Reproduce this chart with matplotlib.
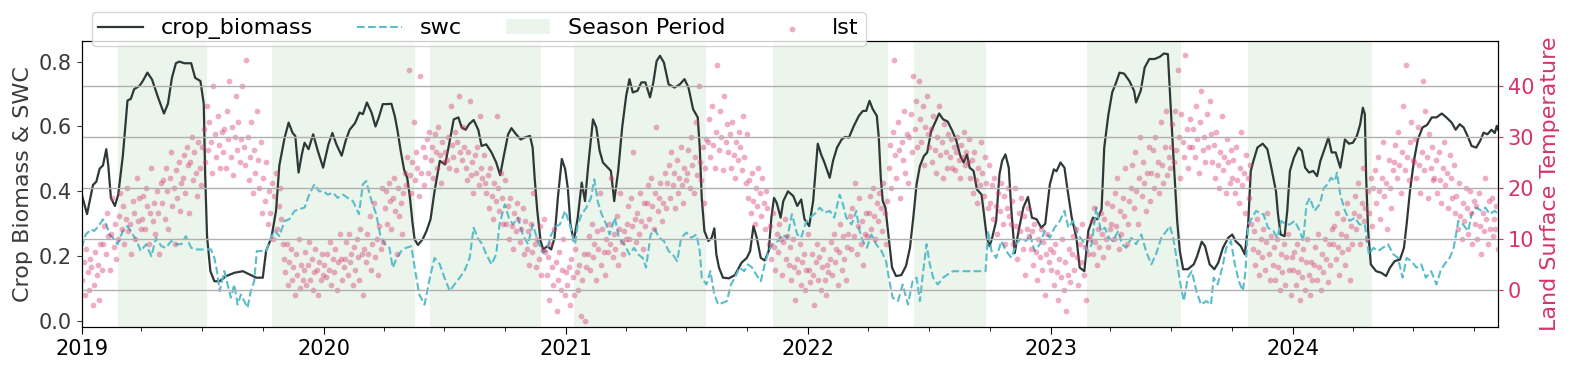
import numpy as np
import pandas as pd
import matplotlib
matplotlib.use("Agg")
import matplotlib.pyplot as plt
import matplotlib.dates as mdates

START = pd.Timestamp("2019-01-01")
END = pd.Timestamp("2024-11-06")

# crop biomass: days since 2019-01-01, value
bio_day = [0, 8, 17, 22, 27, 32, 37, 40, 44, 50, 55, 62, 69, 74, 79, 87, 92, 99, 106, 115, 124, 130, 136, 142,
           147, 155, 165, 171, 179, 184, 186, 189, 194, 200, 208, 218, 230, 243, 253, 263, 273, 278, 286, 293,
           298, 306, 312, 318, 322, 327, 332, 336, 342, 349, 356, 364, 372, 378, 384, 392, 398, 404, 412, 419,
           424, 430, 437, 443, 448, 454, 460, 467, 472, 476, 481, 486, 491, 495, 499, 502, 507, 514, 520, 526,
           532, 540, 548, 554, 561, 568, 573, 579, 584, 591, 598, 603, 610, 618, 625, 631, 636, 643, 648, 655,
           662, 668, 676, 680, 683, 687, 692, 696, 702, 708, 713, 718, 724, 729, 733, 737, 742, 748, 754, 759,
           764, 771, 776, 781, 786, 791, 798, 803, 809, 815, 821, 826, 831, 838, 844, 850, 857, 862, 867, 872,
           878, 885, 894, 902, 909, 915, 922, 929, 932, 935, 939, 945, 950, 954, 957, 961, 967, 976, 985, 995,
           1003, 1008, 1013, 1018, 1024, 1030, 1036, 1040, 1044, 1048, 1054, 1058, 1065, 1073, 1079, 1085, 1090,
           1097, 1103, 1110, 1115, 1120, 1128, 1133, 1139, 1146, 1151, 1157, 1164, 1172, 1178, 1183, 1188, 1193,
           1199, 1202, 1205, 1208, 1212, 1217, 1222, 1228, 1236, 1243, 1249, 1254, 1259, 1264, 1270, 1275, 1281,
           1288, 1293, 1299, 1306, 1313, 1319, 1325, 1330, 1335, 1339, 1345, 1350, 1357, 1360, 1365, 1369, 1373,
           1379, 1384, 1388, 1393, 1398, 1402, 1407, 1413, 1420, 1427, 1433, 1440, 1447, 1453, 1460, 1466, 1470,
           1476, 1482, 1487, 1493, 1500, 1505, 1512, 1518, 1525, 1532, 1538, 1542, 1548, 1554, 1560, 1565, 1572,
           1580, 1587, 1590, 1597, 1603, 1610, 1618, 1626, 1632, 1638, 1642, 1647, 1652, 1656, 1661, 1668, 1677,
           1682, 1689, 1694, 1701, 1708, 1714, 1721, 1729, 1735, 1740, 1748, 1754, 1759, 1763, 1767, 1773, 1781,
           1788, 1794, 1801, 1804, 1808, 1814, 1818, 1822, 1828, 1835, 1840, 1845, 1851, 1857, 1863, 1868, 1875,
           1880, 1885, 1891, 1898, 1905, 1911, 1917, 1923, 1928, 1932, 1935, 1937, 1940, 1944, 1952, 1960, 1967,
           1973, 1980, 1988, 1994, 1998, 2003, 2009, 2015, 2022, 2029, 2036, 2043, 2051, 2058, 2066, 2072, 2078,
           2084, 2091, 2096, 2103, 2109, 2114, 2120, 2126, 2131, 2134, 2136]
bio_val = [0.39, 0.33, 0.42, 0.43, 0.47, 0.48, 0.53, 0.48, 0.38, 0.355, 0.39, 0.51, 0.68, 0.685, 0.715, 0.725,
           0.74, 0.766, 0.745, 0.69, 0.64, 0.67, 0.75, 0.795, 0.80, 0.795, 0.795, 0.75, 0.74, 0.67, 0.46, 0.26,
           0.154, 0.123, 0.123, 0.139, 0.149, 0.154, 0.144, 0.134, 0.134, 0.216, 0.257, 0.34, 0.48, 0.566, 0.612,
           0.58, 0.571, 0.458, 0.515, 0.55, 0.53, 0.576, 0.525, 0.473, 0.545, 0.58, 0.545, 0.51, 0.556, 0.59,
           0.61, 0.643, 0.638, 0.674, 0.643, 0.60, 0.628, 0.669, 0.669, 0.67, 0.633, 0.59, 0.525, 0.468, 0.44,
           0.38, 0.30, 0.252, 0.235, 0.252, 0.278, 0.314, 0.40, 0.494, 0.483, 0.545, 0.622, 0.628, 0.597, 0.59,
           0.607, 0.62, 0.59, 0.54, 0.545, 0.52, 0.489, 0.45, 0.504, 0.576, 0.595, 0.576, 0.56, 0.566, 0.571,
           0.535, 0.442, 0.34, 0.247, 0.221, 0.231, 0.221, 0.257, 0.38, 0.50, 0.469, 0.41, 0.298, 0.247, 0.319,
           0.427, 0.37, 0.484, 0.622, 0.597, 0.525, 0.489, 0.478, 0.463, 0.37, 0.463, 0.597, 0.694, 0.746, 0.705,
           0.71, 0.736, 0.736, 0.69, 0.736, 0.802, 0.818, 0.797, 0.73, 0.72, 0.73, 0.746, 0.72, 0.653, 0.628,
           0.535, 0.38, 0.278, 0.247, 0.257, 0.286, 0.206, 0.165, 0.134, 0.132, 0.142, 0.18, 0.195, 0.216, 0.293,
           0.257, 0.195, 0.187, 0.216, 0.319, 0.38, 0.365, 0.319, 0.37, 0.40, 0.386, 0.355, 0.375, 0.314, 0.293,
           0.37, 0.547, 0.514, 0.489, 0.442, 0.494, 0.535, 0.56, 0.568, 0.566, 0.60, 0.633, 0.648, 0.648, 0.679,
           0.653, 0.633, 0.566, 0.442, 0.37, 0.35, 0.257, 0.165, 0.139, 0.142, 0.17, 0.226, 0.319, 0.422, 0.478,
           0.509, 0.52, 0.586, 0.617, 0.64, 0.622, 0.615, 0.586, 0.556, 0.509, 0.489, 0.514, 0.473, 0.463, 0.406,
           0.39, 0.34, 0.257, 0.231, 0.257, 0.309, 0.453, 0.494, 0.514, 0.473, 0.34, 0.21, 0.28, 0.35, 0.383,
           0.319, 0.314, 0.288, 0.30, 0.422, 0.468, 0.462, 0.489, 0.473, 0.40, 0.319, 0.257, 0.165, 0.154, 0.278,
           0.319, 0.314, 0.345, 0.535, 0.633, 0.705, 0.736, 0.766, 0.763, 0.74, 0.71, 0.674, 0.71, 0.782, 0.808,
           0.808, 0.815, 0.825, 0.823, 0.669, 0.484, 0.309, 0.216, 0.16, 0.16, 0.175, 0.20, 0.245, 0.231, 0.175,
           0.16, 0.18, 0.226, 0.257, 0.267, 0.247, 0.231, 0.206, 0.298, 0.463, 0.494, 0.535, 0.547, 0.53, 0.473,
           0.40, 0.33, 0.267, 0.262, 0.34, 0.463, 0.504, 0.535, 0.525, 0.473, 0.458, 0.463, 0.447, 0.494, 0.535,
           0.566, 0.52, 0.52, 0.473, 0.56, 0.547, 0.55, 0.571, 0.607, 0.658, 0.638, 0.442, 0.278, 0.175, 0.154,
           0.149, 0.139, 0.165, 0.185, 0.19, 0.226, 0.298, 0.40, 0.494, 0.56, 0.597, 0.605, 0.628, 0.628, 0.64,
           0.628, 0.612, 0.59, 0.607, 0.597, 0.566, 0.54, 0.535, 0.556, 0.581, 0.576, 0.59, 0.58, 0.602, 0.59]

# soil water content: days since 2019-01-01, value
swc_day = [0, 6, 14, 19, 27, 32, 37, 42, 47, 54, 62, 69, 77, 83, 89, 97, 105, 112, 120, 127, 135, 142, 150, 157,
           165, 172, 182, 195, 200, 204, 208, 215, 220, 225, 230, 235, 240, 245, 250, 255, 260, 264, 270, 278,
           283, 291, 298, 306, 313, 321, 328, 336, 343, 351, 358, 364, 371, 379, 386, 394, 401, 409, 418, 424,
           429, 437, 444, 450, 457, 464, 469, 475, 482, 489, 497, 503, 509, 517, 525, 532, 540, 547, 555, 562,
           570, 577, 585, 591, 597, 604, 610, 618, 625, 630, 638, 644, 650, 658, 665, 673, 680, 688, 695, 701,
           708, 716, 721, 729, 736, 741, 744, 748, 754, 761, 768, 773, 778, 784, 791, 796, 804, 810, 818, 826,
           833, 839, 846, 851, 858, 864, 871, 878, 885, 891, 898, 904, 912, 919, 927, 932, 935, 942, 948, 954,
           960, 967, 973, 979, 985, 992, 999, 1005, 1011, 1017, 1024, 1030, 1036, 1042, 1050, 1056, 1064, 1071,
           1079, 1085, 1092, 1098, 1105, 1113, 1120, 1128, 1135, 1143, 1148, 1153, 1161, 1168, 1173, 1178, 1184,
           1191, 1198, 1206, 1213, 1218, 1223, 1231, 1238, 1246, 1253, 1259, 1264, 1269, 1274, 1279, 1284, 1291,
           1299, 1306, 1314, 1363, 1367, 1372, 1379, 1387, 1394, 1402, 1409, 1417, 1424, 1430, 1437, 1445, 1452,
           1460, 1467, 1475, 1482, 1488, 1495, 1502, 1510, 1517, 1523, 1530, 1537, 1543, 1549, 1555, 1563, 1569,
           1575, 1583, 1590, 1598, 1605, 1613, 1620, 1628, 1636, 1641, 1646, 1651, 1656, 1662, 1668, 1674, 1681,
           1688, 1696, 1703, 1707, 1713, 1720, 1726, 1733, 1739, 1745, 1751, 1755, 1759, 1765, 1771, 1779, 1782,
           1789, 1797, 1803, 1809, 1816, 1822, 1829, 1837, 1842, 1847, 1852, 1859, 1867, 1873, 1879, 1884, 1890,
           1893, 1898, 1905, 1912, 1920, 1927, 1935, 1941, 1948, 1955, 1962, 1970, 1978, 1985, 1992, 1998, 2005,
           2013, 2020, 2027, 2035, 2043, 2049, 2055, 2063, 2069, 2076, 2083, 2091, 2096, 2103, 2111, 2117, 2123,
           2131, 2136]
swc_val = [0.226, 0.267, 0.283, 0.278, 0.298, 0.314, 0.298, 0.267, 0.257, 0.237, 0.278, 0.293, 0.267, 0.247,
           0.216, 0.237, 0.20, 0.257, 0.231, 0.226, 0.247, 0.237, 0.237, 0.262, 0.226, 0.221, 0.221, 0.221,
           0.195, 0.154, 0.093, 0.154, 0.113, 0.072, 0.113, 0.051, 0.082, 0.062, 0.041, 0.093, 0.123, 0.216,
           0.216, 0.216, 0.247, 0.278, 0.262, 0.309, 0.314, 0.34, 0.345, 0.35, 0.39, 0.422, 0.40, 0.401, 0.39,
           0.396, 0.38, 0.39, 0.38, 0.37, 0.33, 0.422, 0.432, 0.37, 0.33, 0.267, 0.237, 0.226, 0.165, 0.195,
           0.216, 0.226, 0.231, 0.154, 0.082, 0.051, 0.134, 0.195, 0.175, 0.134, 0.093, 0.113, 0.134, 0.154,
           0.195, 0.288, 0.257, 0.237, 0.206, 0.175, 0.206, 0.298, 0.36, 0.319, 0.298, 0.319, 0.267, 0.237,
           0.298, 0.247, 0.211, 0.216, 0.267, 0.293, 0.298, 0.34, 0.298, 0.257, 0.237, 0.298, 0.33, 0.35, 0.38,
           0.437, 0.37, 0.33, 0.298, 0.267, 0.319, 0.257, 0.237, 0.206, 0.226, 0.206, 0.195, 0.165, 0.267,
           0.283, 0.257, 0.247, 0.216, 0.206, 0.185, 0.257, 0.273, 0.257, 0.267, 0.216, 0.134, 0.113, 0.154,
           0.082, 0.051, 0.057, 0.062, 0.113, 0.134, 0.165, 0.154, 0.175, 0.165, 0.144, 0.123, 0.175, 0.216,
           0.237, 0.247, 0.267, 0.257, 0.33, 0.267, 0.257, 0.304, 0.319, 0.33, 0.35, 0.334, 0.34, 0.319, 0.39,
           0.36, 0.319, 0.298, 0.34, 0.278, 0.247, 0.226, 0.267, 0.237, 0.216, 0.185, 0.123, 0.072, 0.062, 0.113,
           0.051, 0.123, 0.134, 0.062, 0.154, 0.237, 0.175, 0.134, 0.113, 0.134, 0.144, 0.154, 0.154, 0.278,
           0.216, 0.195, 0.247, 0.216, 0.195, 0.237, 0.257, 0.247, 0.267, 0.216, 0.237, 0.278, 0.257, 0.288,
           0.309, 0.34, 0.288, 0.309, 0.267, 0.247, 0.216, 0.237, 0.35, 0.278, 0.288, 0.257, 0.247, 0.278,
           0.237, 0.226, 0.257, 0.237, 0.267, 0.216, 0.175, 0.206, 0.257, 0.278, 0.293, 0.257, 0.195, 0.123,
           0.062, 0.134, 0.154, 0.093, 0.051, 0.062, 0.051, 0.134, 0.113, 0.165, 0.226, 0.247, 0.175, 0.123,
           0.093, 0.154, 0.298, 0.319, 0.34, 0.33, 0.33, 0.288, 0.278, 0.257, 0.309, 0.298, 0.298, 0.309, 0.278,
           0.247, 0.36, 0.38, 0.34, 0.36, 0.41, 0.422, 0.442, 0.432, 0.458, 0.39, 0.34, 0.309, 0.319, 0.298,
           0.298, 0.206, 0.226, 0.216, 0.226, 0.237, 0.206, 0.195, 0.134, 0.195, 0.185, 0.165, 0.175, 0.134,
           0.154, 0.113, 0.154, 0.175, 0.195, 0.226, 0.309, 0.298, 0.278, 0.33, 0.35, 0.34, 0.35, 0.33, 0.34,
           0.33]

# growing seasons (start, end)
season_start = ["2019-02-25", "2019-10-15", "2020-06-09", "2021-01-12", "2021-11-08", "2022-06-09", "2023-02-25",
                "2023-10-26"]
season_end = ["2019-07-09", "2020-05-17", "2020-11-23", "2021-07-30", "2022-05-01", "2022-09-26", "2023-07-17",
              "2024-04-30"]

# land surface temperature, one list per month
lst_2019 = [
    [2, 5.5, -1, 8, 3.5, 0, 6, 4.5, -3, 1, 7.5, 3, 5, -2, 9, 4],
    [9, 12.5, 7, 15, 10.5, 4, 11, 18, 8.5, 13, 6, 10, 14.5, 19],
    [12, 16.5, 9, 14, 20, 11.5, 13, 7, 17.5, 15, 10, 22, 13.5, 18, 12],
    [14, 18.5, 12, 20, 16.5, 9, 15, 24, 13.5, 17, 11, 19.5, 15, 7, 21],
    [17, 21.5, 14, 24, 19.5, 12, 22, 27, 16.5, 20, 9, 23.5, 18, 25, 15.5, 21],
    [22, 26.5, 19, 28, 24.5, 15, 25, 30, 21.5, 27, 23, 18.5, 29, 24, 20.5],
    [28, 31.5, 25, 36, 27.5, 33, 29, 23, 40, 30.5, 26, 34, 28.5, 24, 31],
    [27, 31.5, 24, 35, 29.5, 41, 26, 32, 22.5, 30, 38, 27.5, 33, 25, 29.5, 40],
    [28, 24.5, 45, 30, 21.5, 26, 33, 19, 27.5, 23, 35, 25.5, 20, 29, 15],
    [22, 17.5, 25, 13, 19.5, 15, 21, 10, 18.5, 23, 12, 16.5, 20, 14, 9],
    [6, 3.5, 9, 1, 5.5, 8, 2, 4.5, -1, 7, 3, 10, 0.5, 5, 2],
    [4, 7.5, 1, 5, 9.5, 2, 6, 0, 3.5, 8, 4, -1, 5.5, 2, 7, 3],
]
lst_2020 = [
    [5, 2.5, 7, 4, 9.5, 1, 6, 3.5, 8, 0, 5.5, 11, 6, 2, 4.5],
    [6, 9.5, 3, 11, 5.5, 7, 1, 8.5, 4, 10, 6.5, 2, 12, 7, -1],
    [8, 5.5, 11, 7, 14.5, 4, 9, 17, 6.5, 10, 3, 12.5, 8, 20, 9.5],
    [16, 19.5, 13, 21, 17.5, 12, 18, 22, 15.5, 7, 20, 14.5, 17, 11, 19],
    [23, 20.5, 26, 43, 22.5, 19, 25, 33, 21.5, 27, 24, 18.5, 42, 23, 28, 20.5],
    [26, 29.5, 23, 31, 25.5, 28, 22, 30.5, 27, 24, 32, 26.5, 21, 29, 25],
    [27, 25.5, 30, 24, 36, 28.5, 26, 31, 23.5, 29, 38, 27, 25.5, 32, 28],
    [24, 21.5, 27, 37, 22.5, 25, 19, 26.5, 23, 28, 20.5, 34, 24, 22, 26.5, 21],
    [19, 22.5, 16, 24, 18.5, 14, 21, 17.5, 34, 20, 15.5, 23, 18, 13, 21.5],
    [13, 16.5, 10, 18, 12.5, 8, 15, 11.5, 17, 14, 9.5, 12, 16, 7, 13.5],
    [8, 11.5, 5, 13, 7.5, 19, 9, 4.5, 10, 6, 12.5, 3, 8, 14, 7.5],
    [3, 6.5, -2, 9, 4.5, 1, 12, 5.5, -4, 2, 7.5, 0, 4, 10, -1, 3.5],
]
lst_2021 = [
    [1, 4.5, -3, 6, 2.5, -1, 8, 3.5, 0, 5, -5, 2, 7, -6, 4.5],
    [7, 10.5, 4, 13, 6.5, 9, 2, 11.5, 8, 19, 5, 12, 7.5, 3],
    [10, 7.5, 13, 9, 22, 6.5, 11, 8, 14.5, 5, 12, 19, 9.5, 7, 11.5, 10],
    [13, 16.5, 10, 18, 12.5, 27, 14, 9.5, 15, 11, 19, 13.5, 8, 17, 12.5],
    [17, 20.5, 14, 22, 16.5, 12, 19, 32, 15.5, 18, 21, 13.5, 17, 23, 16],
    [21, 24.5, 18, 27, 20.5, 23, 16, 25.5, 19, 22, 28, 20.5, 17, 24, 21.5],
    [23, 27.5, 20, 30, 24.5, 19, 26, 33, 22.5, 40, 25, 21.5, 28, 17, 24, 29.5],
    [29, 33.5, 26, 36, 28.5, 24, 31, 44, 27.5, 35, 30, 23.5, 38, 29, 32.5],
    [27, 30.5, 24, 33, 26.5, 22, 29, 25.5, 31, 28, 23.5, 34, 26, 21, 30.5],
    [18, 21.5, 15, 23, 17.5, 13, 20, 16.5, 24, 19, 14.5, 22, 17, 12, 19.5, 16],
    [9, 12.5, 6, 15, 8.5, 4, 11, 7.5, 13, 10, 3, 9.5, 14, 6, 10.5],
    [5, 8.5, 2, 10, 4.5, -2, 6, 3.5, 9, 1, 5.5, 7, 0, 4, 11],
]
lst_2022 = [
    [4, 1.5, 7, 3, -3, 5.5, 9, 2, 6.5, 0, 4.5, 8, 2, -1, 5, 3.5],
    [6, 9.5, 3, 11, 5.5, 8, 1, 7.5, 13, 4, 10.5, 6, 2, 8.5],
    [11, 14.5, 8, 16, 10.5, 21, 7, 12.5, 18, 9, 13.5, 5, 11, 15, 10.5],
    [15, 18.5, 12, 20, 14.5, 10, 17, 13.5, 19, 16, 11.5, 21, 15, 9, 17.5],
    [24, 28.5, 20, 31, 45, 26.5, 22, 33, 27.5, 18, 29, 25.5, 35, 23, 30.5, 21],
    [30, 34.5, 27, 42, 31.5, 37, 28, 41, 33.5, 29, 36, 24.5, 32, 38, 30.5],
    [28, 31.5, 25, 34, 27.5, 23, 30, 36, 26.5, 29, 22, 32.5, 27, 24, 30.5],
    [26, 29.5, 24, 28, 23.5, 27, 30, 25.5, 22, 28.5, 26, 31, 24.5, 27, 25, 29.5],
    [22, 25.5, 19, 27, 21.5, 17, 24, 20.5, 29, 23, 18.5, 26, 21, 16, 24.5],
    [17, 20.5, 14, 22, 16.5, 11, 19, 15.5, 21, 13, 18.5, 9, 16, 20, 14.5],
    [13, 17.5, 9, 20, 12.5, 6, 15, 11.5, 18, 8, 14.5, 3, 12, 16, 10.5],
    [8, 11.5, 5, 13, 7.5, 2, 10, 6.5, 12, 4, 9.5, -1, 7, 11, 5.5, 8],
]
lst_2023 = [
    [4, 7.5, 1, 9, 3.5, -2, 6, 2.5, 10, 0, 5.5, -4, 3, 8, 1.5],
    [7, 10.5, 4, 12, 6.5, 1, 9, 5.5, 13, 3, 8.5, -2, 7, 10.5],
    [10, 13.5, 7, 16, 9.5, 5, 12, 8.5, 15, 11, 6.5, 14, 10, 17, 8.5, 12],
    [13, 16.5, 10, 19, 12.5, 22, 8, 15.5, 11, 18, 14.5, 24, 9, 13, 17.5],
    [20, 24.5, 16, 27, 19.5, 13, 22, 30, 18.5, 25, 21, 15.5, 23, 28, 17.5],
    [23, 27.5, 20, 30, 22.5, 25, 19, 33, 24.5, 21, 28, 35, 22.5, 26, 24],
    [28, 32.5, 25, 35, 27.5, 43, 30, 22, 34.5, 29, 26, 46, 31.5, 24, 28, 33.5],
    [28, 31.5, 26, 36, 29.5, 23, 33, 39, 27.5, 30, 25, 34.5, 28, 37, 30.5],
    [25, 28.5, 22, 31, 24.5, 20, 27, 34, 23.5, 26, 19, 29.5, 25, 21, 27.5],
    [22, 25.5, 19, 28, 21.5, 17, 24, 31, 20.5, 23, 15, 26.5, 22, 18, 24.5, 13],
    [8, 11.5, 5, 14, 7.5, 3, 10, 6.5, 12, 4, 9.5, 15, 7, 2, 10.5],
    [5, 8.5, 2, 10, 4.5, 0, 7, 3.5, 9, 1, 6.5, 11, 4, -1, 6.5],
]
lst_2024 = [
    [4, 7.5, 1, 9, 3.5, -2, 6, 2.5, 8, 0, 5.5, 10, 3, -1, 5.5, 2],
    [5, 8.5, 2, 11, 4.5, 0, 7, 3.5, 10, 6, 1.5, 9, 5, 12],
    [9, 12.5, 6, 15, 8.5, 3, 11, 7.5, 14, 5, 10.5, 17, 8, 2, 12.5, 9],
    [15, 18.5, 12, 21, 14.5, 9, 17, 24, 13.5, 16, 10, 19.5, 15, 22, 12.5],
    [20, 23.5, 17, 26, 19.5, 14, 22, 29, 18.5, 21, 12, 25.5, 20, 16, 23.5],
    [25, 28.5, 22, 31, 24.5, 19, 27, 36, 23.5, 44, 26, 21.5, 29, 33, 25.5],
    [25, 29.5, 22, 32, 24.5, 19, 27, 41, 23.5, 35, 26, 18, 30.5, 24, 28, 21.5],
    [22, 25.5, 19, 27, 21.5, 17, 24, 29, 20.5, 23, 16, 26.5, 22, 18, 24.5],
    [15, 18.5, 12, 21, 14.5, 10, 17, 13.5, 20, 16, 11, 19.5, 15, 9, 17.5],
    [13, 16.5, 10, 19, 12.5, 7, 15, 11.5, 22, 14, 9, 17.5, 12, 18, 10.5, 14],
    [12, 16.5, 8],
]

BIO_COLOR = "#2f3838"
SWC_COLOR = "#5bbcca"
LST_COLOR = "#d6336c"
TEXT_COLOR = "#3a3a3a"


def lst_series():
    dates, vals = [], []
    for year, months in zip(range(2019, 2025),
                            [lst_2019, lst_2020, lst_2021, lst_2022, lst_2023, lst_2024]):
        for m, month_vals in enumerate(months):
            m0 = pd.Timestamp(year=year, month=m + 1, day=1)
            m1 = min(m0 + pd.offsets.MonthBegin(1), END)
            span = (m1 - m0) / len(month_vals)
            for k, v in enumerate(month_vals):
                dates.append(m0 + span * (k + 0.5))
                vals.append(v)
    return dates, vals


bio_dates = START + pd.to_timedelta(bio_day, unit="D")
swc_dates = START + pd.to_timedelta(swc_day, unit="D")
lst_dates, lst_vals = lst_series()

fig, ax1 = plt.subplots(figsize=(15.72, 3.68), dpi=100)
fig.subplots_adjust(left=0.052, right=0.953, top=0.889, bottom=0.111)

ax1.plot(bio_dates, bio_val, color=BIO_COLOR, lw=1.6, label="crop_biomass", zorder=3)
ax1.plot(swc_dates, swc_val, color=SWC_COLOR, lw=1.5, ls="--", label="swc", zorder=3)
for i, (s, e) in enumerate(zip(season_start, season_end)):
    ax1.axvspan(pd.Timestamp(s), pd.Timestamp(e), color="green", alpha=0.08, lw=0,
                label="Season Period" if i == 0 else None)

ax2 = ax1.twinx()
ax2.scatter(lst_dates, lst_vals, s=17, color=LST_COLOR, alpha=0.4, lw=0, label="lst")

ax1.set_xlim(START, END)
ax1.set_ylim(-0.0185, 0.864)
ax2.set_ylim(-7.25, 48.8)

ax1.xaxis.set_major_locator(mdates.YearLocator())
ax1.xaxis.set_major_formatter(mdates.DateFormatter("%Y"))
ax1.xaxis.set_minor_locator(mdates.MonthLocator(bymonth=[4, 7, 10]))
ax1.tick_params(axis="x", labelsize=15, length=5)
ax1.tick_params(axis="x", which="minor", length=3)
ax1.tick_params(axis="y", labelsize=15, colors=TEXT_COLOR)
ax1.set_ylabel("Crop Biomass & SWC", fontsize=16, color=TEXT_COLOR)

ax2.set_yticks([0, 10, 20, 30, 40])
ax2.tick_params(axis="y", labelsize=15, colors=LST_COLOR)
ax2.set_ylabel("Land Surface Temperature", fontsize=16, color=LST_COLOR)
ax2.grid(True, axis="y", color="#b0b0b0", lw=1)

h1, l1 = ax1.get_legend_handles_labels()
h2, l2 = ax2.get_legend_handles_labels()
ax2.legend(h1 + h2, l1 + l2, ncol=4, fontsize=16, loc="lower left",
           bbox_to_anchor=(0.007, 0.982), borderaxespad=0, columnspacing=2.0,
           borderpad=0.3, handletextpad=0.8)

fig.savefig("out.png", dpi=100)
